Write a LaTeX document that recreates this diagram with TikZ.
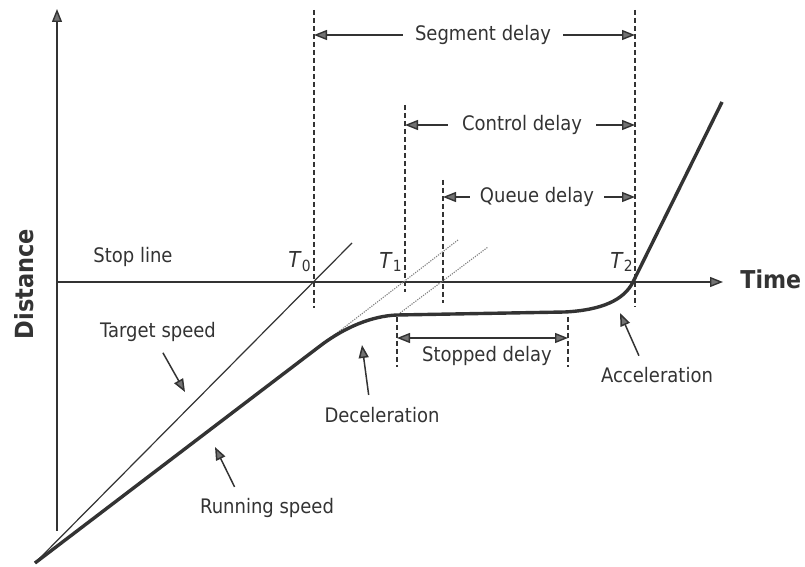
\documentclass[tikz,border=0pt]{standalone}
\usepackage{fontspec}
\setmainfont{DejaVu Sans}[FakeStretch=0.9]
\usepackage{xcolor}
\usepackage{tikz}
\usetikzlibrary{arrows.meta}
\definecolor{ink}{rgb}{0.2,0.2,0.2}
\definecolor{tipgray}{rgb}{0.45,0.45,0.45}
\tikzset{
    tip/.style={-{Triangle[length=6.5pt,width=5pt,fill=tipgray]}},
    guide/.style={ink,line width=0.6pt,dash pattern=on 2.5pt off 1.5pt},
    extension/.style={gray,line width=0.55pt,dash pattern=on 0.6pt off 0.6pt},
    dimlabel/.style={inner sep=6pt,text=ink,font=\fontsize{10}{12}\selectfont},
    label/.style={inner sep=1pt,text=ink,font=\fontsize{10}{12}\selectfont},
    pointer/.style={tip,ink,line width=0.75pt,shorten <=5pt}
}

\begin{document}
\begin{tikzpicture}[x=0.5pt,y=-0.5pt]
    \useasboundingbox (0,0) rectangle (805,567);

    % draw axes
    \coordinate (origin) at (35,563);
    \coordinate (ybot) at (57,531);
    \coordinate (ytop) at (57,9);
    \coordinate (xleft) at (57,282);
    \coordinate (xright) at (723,282);
    \draw[tip,ink,line width=0.7pt] (ybot) -- (ytop);
    \draw[tip,ink,line width=0.7pt] (xleft) -- (xright);
    \node[label,font=\fontsize{12.5}{14}\selectfont\bfseries,rotate=90] (dist) at (24,284) {Distance};
    \node[label,font=\fontsize{12.3}{14}\selectfont\bfseries,anchor=west] (time) at (738,279) {Time};
    \node[label] (stop) at (133,257) {Stop line};

    % draw vertical lines
    \coordinate (t0top) at (314,10);   \coordinate (t0bot) at (314,308);
    \coordinate (t1top) at (405,105);  \coordinate (t1bot) at (405,292);
    \coordinate (qtop) at (443,180);   \coordinate (qbot) at (443,303);
    \coordinate (t2top) at (635,10);   \coordinate (t2bot) at (635,307);
    \coordinate (sltop) at (397,317);  \coordinate (slbot) at (397,367);
    \coordinate (srtop) at (568,317);  \coordinate (srbot) at (568,367);
    \foreach \a/\b in {t0top/t0bot,t1top/t1bot,qtop/qbot,t2top/t2bot,sltop/slbot,srtop/srbot}
        \draw[guide] (\a) -- (\b);

    \node[label,font=\fontsize{11}{13}\selectfont] (T0) at (300,262) {\textit{T}\textsubscript{0}};
    \node[label,font=\fontsize{11}{13}\selectfont] (T1) at (391,262) {\textit{T}\textsubscript{1}};
    \node[label,font=\fontsize{11}{13}\selectfont] (T2) at (622,262) {\textit{T}\textsubscript{2}};

    % draw delays
    \node[dimlabel] (seg) at (483,35) {Segment delay};
    \draw[tip,ink,line width=0.7pt] (seg.west) -- (seg.west -| t0top);
    \draw[tip,ink,line width=0.7pt] (seg.east) -- (seg.east -| t2top);

    \node[dimlabel,inner sep=7pt] (ctrl) at (522,125) {Control delay};
    \draw[tip,ink,line width=0.7pt] (ctrl.west) -- (ctrl.west -| t1top);
    \draw[tip,ink,line width=0.7pt] (ctrl.east) -- (ctrl.east -| t2top);

    \node[dimlabel,inner sep=5pt] (queue) at (537,197) {Queue delay};
    \draw[tip,ink,line width=0.7pt] (queue.west) -- (queue.west -| qtop);
    \draw[tip,ink,line width=0.7pt] (queue.east) -- (queue.east -| t2top);

    \coordinate (sl) at (397,338);
    \coordinate (sr) at (568,338);
    \draw[{Triangle[length=6.5pt,width=5pt,fill=tipgray]}-{Triangle[length=6.5pt,width=5pt,fill=tipgray]},ink,line width=0.7pt] (sl) -- (sr);
    \node[label] (stopped) at (487,356) {Stopped delay};

    % draw speeds
    \coordinate (tgtend) at (352,243);
    \draw[ink,line width=0.6pt] (origin) -- (tgtend);

    \coordinate (decstart) at (320,346);
    \coordinate (decend) at (397,315);
    \coordinate (accstart) at (565,312);
    \coordinate (t2axis) at (633,282);
    \coordinate (runend) at (722,102);
    \draw[extension] (decstart) -- (458,240);
    \draw[extension] (400,313) -- (488,247);
    \draw[ink,line width=1.7pt,line join=round] (origin) -- (decstart)
        .. controls (345,327) and (372,316) .. (decend) -- (accstart)
        .. controls (602,310) and (624,300) .. (t2axis) -- (runend);

    % draw labels
    \node[label] (target) at (158,332) {Target speed};
    \coordinate (targettip) at (185,392);
    \draw[pointer] (target.south) -- (targettip);

    \node[label] (running) at (267,508) {Running speed};
    \coordinate (runningtip) at (215,447);
    \draw[pointer] ([xshift=-14pt]running.north) -- (runningtip);

    \node[label] (decel) at (382,415) {Deceleration};
    \coordinate (deceltip) at (362,345);
    \draw[pointer] ([xshift=-6pt]decel.north) -- (deceltip);

    \node[label] (accel) at (657,375) {Acceleration};
    \coordinate (acceltip) at (620,313);
    \draw[pointer] ([xshift=-7pt]accel.north) -- (acceltip);
\end{tikzpicture}
\end{document}
